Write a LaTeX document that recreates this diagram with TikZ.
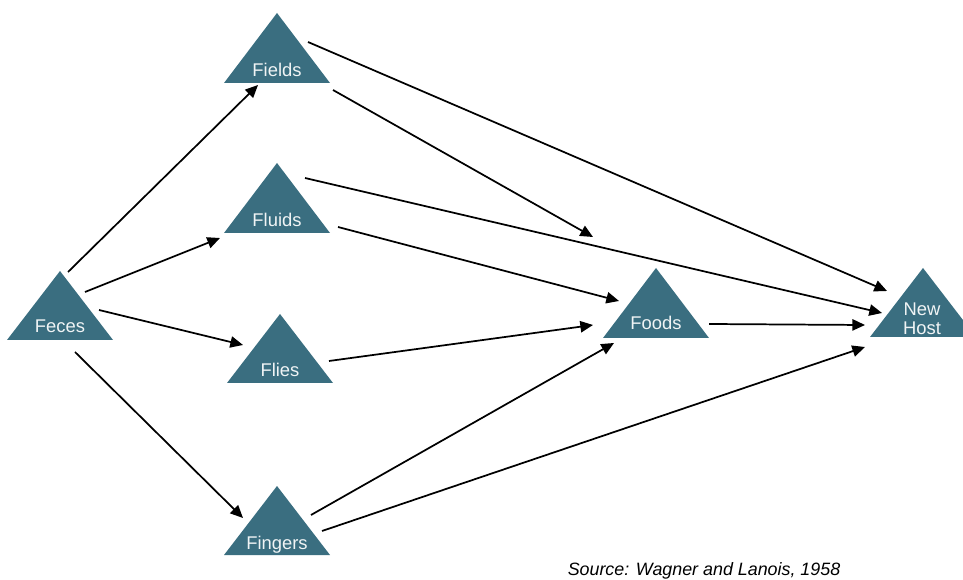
\documentclass[tikz,border=0pt]{standalone}
\usepackage{fontspec}
\setmainfont{Liberation Sans}
\usetikzlibrary{arrows.meta,calc}
\definecolor{trifill}{HTML}{3A6E80}
\definecolor{lbltext}{HTML}{F0F4F5}
\newcommand{\tri}[3]{\fill[trifill] (#1-53,#3) -- (#1,#2) -- (#1+53,#3) -- cycle;}
\tikzset{
  lbl/.style={text=lbltext, inner sep=0pt, font=\fontsize{13.8}{14.25}\selectfont, text height=9.9pt, text depth=0pt, align=center},
  arr/.style={draw=black, line width=1.3pt, -{Triangle[length=9.5pt,width=8.5pt]}},
  srcnote/.style={inner sep=0pt, font=\fontsize{13.4}{15}\selectfont\itshape, text height=9.6pt, text depth=0pt}
}
\begin{document}
\begin{tikzpicture}[x=0.75pt,y=-0.75pt]
\useasboundingbox (0,0) rectangle (963,580);
% triangles
\tri{277}{13}{83}
\tri{277}{163}{233}
\tri{60}{271}{340}
\tri{280}{314}{383}
\tri{277}{486}{555}
\tri{656}{268}{338}
\tri{923}{268}{337}
% labels
\node[lbl] (fields) at (277,70) {Fields};
\node[lbl] (fluids) at (277,220) {Fluids};
\node[lbl] (feces) at (60,326) {Feces};
\node[lbl] (flies) at (280,370) {Flies};
\node[lbl] (fingers) at (277,543) {Fingers};
\node[lbl] (foods) at (656,323) {Foods};
\node[lbl, text height=, text depth=] (newhost) at (922,318.5) {New\\Host};
\coordinate (fieldsend) at (593,237);
\node[srcnote] (src) at (704,569) {Source: Wagner and Lanois, 1958};
% connectors
\draw[arr] ($(feces)+(8,-54)$) -- ($(fields)+(-19,15)$);
\draw[arr] ($(feces)+(25,-34)$) -- ($(fluids)+(-57,18)$);
\draw[arr] ($(feces)+(39,-16)$) -- ($(flies)+(-37,-25)$);
\draw[arr] ($(feces)+(15,26)$) -- ($(fingers)+(-34,-25)$);
\draw[arr] ($(fields)+(31,-28)$) -- ($(newhost)+(-35,-27.5)$);
\draw[arr] ($(fields)+(56,20)$) -- (fieldsend);
\draw[arr] ($(fluids)+(28,-42)$) -- ($(newhost)+(-40,-5.5)$);
\draw[arr] ($(fluids)+(61,7)$) -- ($(foods)+(-37,-22)$);
\draw[arr] ($(flies)+(49,-9)$) -- ($(foods)+(-63,2)$);
\draw[arr] ($(foods)+(53,1)$) -- ($(newhost)+(-57,6.5)$);
\draw[arr] ($(fingers)+(34,-28)$) -- ($(foods)+(-42,20)$);
\draw[arr] ($(fingers)+(45,-12)$) -- ($(newhost)+(-57,28.5)$);
\end{tikzpicture}
\end{document}
